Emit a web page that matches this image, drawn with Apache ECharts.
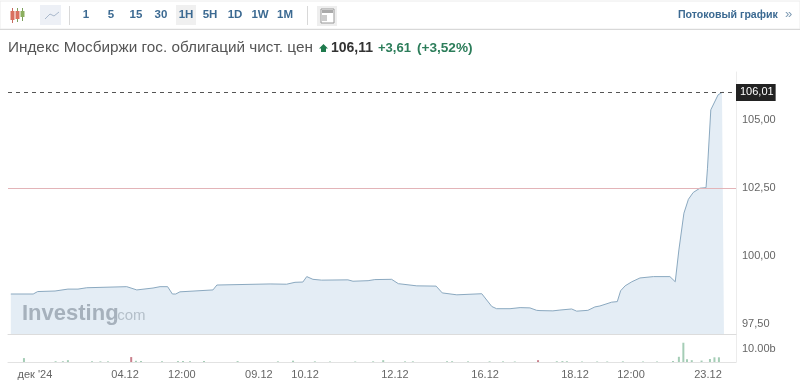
<!DOCTYPE html>
<html>
<head>
<meta charset="utf-8">
<style>
  html, body { margin: 0; padding: 0; background: #fff; }
  #chart { width: 800px; height: 384px; }
</style>
<script src="https://cdn.jsdelivr.net/npm/echarts@6/dist/echarts.min.js"></script>
</head>
<body>
<div id="chart"></div>
<script>
// x values are trading hours counted from the left edge of the chart
const priceHours = [1, 9, 10.6, 16.8, 21.4, 25, 28.1, 42.4, 46, 51.8, 54.3, 57, 58.7, 59.9, 61.4, 73.2, 74.6, 93.6, 99.5, 102.5, 105.3, 106.7, 108.9, 112, 121.4, 123.2, 128.6, 131, 137, 139.4, 146, 152.9, 155.1, 160.3, 169.2, 172.8, 174.5, 179.3, 182.9, 186.4, 188.8, 190, 194.6, 197.1, 201.3, 203.1, 207.1, 209.6, 211.4, 215.6, 217.6, 218.8, 220.4, 222.8, 225.7, 230.5, 236.4, 238.3, 239.6, 241.4, 243, 244.7, 247.1, 249.3, 249.8, 251, 253.6, 255, 255.7]
const priceValues = [98.60, 98.60, 98.69, 98.71, 98.78, 98.78, 98.83, 98.87, 98.75, 98.82, 98.87, 98.87, 98.60, 98.60, 98.68, 98.75, 98.93, 98.97, 98.96, 99.03, 99.04, 99.24, 99.14, 99.11, 99.12, 99.07, 99.09, 99.13, 99.14, 98.98, 98.90, 98.89, 98.64, 98.57, 98.61, 98.14, 98.06, 98.06, 98.10, 98.09, 98.00, 97.99, 97.98, 98.01, 98.05, 97.97, 98.00, 98.125, 98.16, 98.30, 98.32, 98.72, 98.90, 99.05, 99.19, 99.24, 99.24, 99.05, 100.22, 101.57, 102.08, 102.33, 102.49, 102.51, 103.20, 105.37, 105.92, 106.01, 106.01]

const volumeHours = [5.7, 17, 19.6, 21.4, 30, 33, 35.7, 44, 45.7, 47.5, 55, 60.7, 62.5, 65, 70, 82, 96.4, 101.8, 109.6, 115, 124, 130.4, 134, 141.8, 144.6, 156.8, 158.6, 164.3, 172, 176.8, 181, 189.3, 196, 198, 199.6, 205, 210.4, 214, 219.6, 226.8, 231.8, 237.5, 239.6, 241.2, 242.5, 244.2, 247.7, 250.7, 252.3, 253.9]
const volumeValues = [3, 0.6, 0.6, 1.4, 0.5, 0.5, 0.5, 3.8, 0.9, 0.7, 0.6, 0.7, 0.8, 0.6, 0.7, 0.7, 0.5, 1, 0.5, 0.4, 0.4, 0.5, 1.4, 0.5, 0.5, 0.6, 0.6, 0.5, 0.5, 0.5, 0.4, 1.4, 0.6, 0.7, 0.6, 0.4, 0.4, 0.4, 0.5, 0.4, 0.4, 0.8, 4, 14.8, 2.2, 1.4, 1.1, 2.3, 3.6, 3.6]
const volumeDown = [44, 189.3]

const tickHours = [9.6, 41.8, 62.1, 89.6, 106.1, 138.2, 170.4, 202.5, 222.5, 250]
const tickLabels = ["дек '24", '04.12', '12:00', '09.12', '10.12', '12.12', '16.12', '18.12', '12:00', '23.12']
const priceTicks = [97.5, 100, 102.5, 105]
const volumeTicks = [10]
const previousClose = 102.5
const lastPrice = 106.01

const intervals = ['1', '5', '15', '30', '1H', '5H', '1D', '1W', '1M']
const intervalCenters = [86, 111, 136, 161, 186, 210, 235, 260, 285]

const font = '"Liberation Sans", Arial, sans-serif'
const comma = v => v.toFixed(2).replace('.', ',')

const graphic = [
  { type: 'rect', shape: { x: 0, y: 1, width: 800, height: 28 }, style: { fill: '#fff', stroke: '#ececec' }, silent: true },
  { type: 'line', shape: { x1: 0, y1: 29.5, x2: 800, y2: 29.5 }, style: { stroke: '#d8d8d8' } },
  // свечи
  { type: 'line', shape: { x1: 12.5, y1: 8, x2: 12.5, y2: 23 }, style: { stroke: '#c76a5e' } },
  { type: 'rect', shape: { x: 10.5, y: 11, width: 4, height: 9 }, style: { fill: '#d9705f' } },
  { type: 'line', shape: { x1: 17.5, y1: 8, x2: 17.5, y2: 22 }, style: { stroke: '#7da05c' } },
  { type: 'rect', shape: { x: 15.5, y: 11, width: 4, height: 8 }, style: { fill: '#d9705f' } },
  { type: 'line', shape: { x1: 22.5, y1: 8, x2: 22.5, y2: 21 }, style: { stroke: '#7da05c' } },
  { type: 'rect', shape: { x: 20.5, y: 11, width: 4, height: 6 }, style: { fill: '#8caf5f' } },
  // линия
  { type: 'rect', shape: { x: 40, y: 5, width: 21, height: 20 }, style: { fill: '#edf0f6' } },
  { type: 'polyline', shape: { points: [[45, 19], [50, 14], [54, 16], [59, 12]] }, style: { stroke: '#a9b8cc', fill: 'none' } },
  { type: 'line', shape: { x1: 69.5, y1: 6, x2: 69.5, y2: 25 }, style: { stroke: '#d8d8d8' } },
  { type: 'rect', shape: { x: 176, y: 5, width: 20, height: 20 }, style: { fill: '#f0f0f0' } },
  { type: 'line', shape: { x1: 307.5, y1: 6, x2: 307.5, y2: 25 }, style: { stroke: '#d8d8d8' } },
  // новости
  { type: 'rect', shape: { x: 317, y: 6, width: 20, height: 20 }, style: { fill: '#eee' } },
  { type: 'rect', shape: { x: 321, y: 9, width: 13, height: 14 }, style: { fill: '#fff', stroke: '#999' } },
  { type: 'rect', shape: { x: 322, y: 10, width: 11, height: 3 }, style: { fill: '#aaa' } },
  { type: 'rect', shape: { x: 322, y: 15, width: 5, height: 6 }, style: { fill: '#ccc' } },
  { type: 'text', x: 678, y: 15, style: { text: 'Потоковый график', font: 'bold 10.6px ' + font, fill: '#3c6a92', textVerticalAlign: 'middle' } },
  { type: 'text', x: 785, y: 14, style: { text: '»', font: '13px ' + font, fill: '#7d9ab3', textVerticalAlign: 'middle' } },
  { type: 'text', x: 8, y: 48, style: { text: 'Индекс Мосбиржи гос. облигаций чист. цен', font: '15.3px ' + font, fill: '#555', textVerticalAlign: 'middle' } },
  { type: 'polygon', shape: { points: [[323.5, 44], [328, 48.5], [326, 48.5], [326, 52], [321, 52], [321, 48.5], [319, 48.5]] }, style: { fill: '#1f7a4d' } },
  { type: 'text', x: 331, y: 48, style: { text: '106,11', font: 'bold 14px ' + font, fill: '#333', textVerticalAlign: 'middle' } },
  { type: 'text', x: 378, y: 48, style: { text: '+3,61', font: 'bold 13px ' + font, fill: '#2c7d5a', textVerticalAlign: 'middle' } },
  { type: 'text', x: 417, y: 48, style: { text: '(+3,52%)', font: 'bold 13.6px ' + font, fill: '#2c7d5a', textVerticalAlign: 'middle' } },
  { type: 'text', x: 22, y: 314, z: 10, style: { text: 'Investing', font: 'bold 22px ' + font, fill: '#a6b1bc', textVerticalAlign: 'middle' } },
  { type: 'text', x: 113, y: 316, z: 10, style: { text: '.com', font: '15px ' + font, fill: '#b4bfc9', textVerticalAlign: 'middle' } }
]
intervals.forEach((name, i) => {
  graphic.push({
    type: 'text', x: intervalCenters[i], y: 15,
    style: { text: name, font: 'bold 11.5px ' + font, fill: '#3c6a92', textAlign: 'center', textVerticalAlign: 'middle' }
  })
})

const axisText = { color: '#666', fontSize: 11, fontFamily: font }

const option = {
  animation: false,
  backgroundColor: '#fff',
  graphic: graphic,
  grid: [
    { left: 8, right: 64, top: 72, height: 262 },
    { left: 8, right: 64, top: 334, height: 28 }
  ],
  xAxis: [
    {
      type: 'value', gridIndex: 0, min: 0, max: 260,
      axisLine: { show: true, onZero: false, lineStyle: { color: '#dcdcdc' } },
      axisTick: { show: false }, axisLabel: { show: false }, splitLine: { show: false }
    },
    {
      type: 'value', gridIndex: 1, min: 0, max: 260,
      axisLine: { show: true, onZero: false, lineStyle: { color: '#e2e2e2' } },
      axisTick: { show: false },
      splitLine: { show: false },
      axisLabel: {
        ...axisText,
        margin: 7,
        customValues: tickHours,
        formatter: v => tickLabels[tickHours.indexOf(v)]
      }
    }
  ],
  yAxis: [
    {
      type: 'value', gridIndex: 0, position: 'right', min: 97.13, max: 106.76, scale: true,
      axisLine: { show: true, onZero: false, lineStyle: { color: '#ececec' } },
      axisTick: { show: false },
      splitLine: { show: false },
      axisLabel: { ...axisText, margin: 6, customValues: priceTicks, formatter: comma }
    },
    {
      type: 'value', gridIndex: 1, position: 'right', min: 0, max: 21.5,
      axisLine: { show: true, onZero: false, lineStyle: { color: '#ececec' } },
      axisTick: { show: false },
      splitLine: { show: false },
      axisLabel: { ...axisText, margin: 6, customValues: volumeTicks, formatter: v => v.toFixed(2) + 'b' }
    }
  ],
  series: [
    {
      type: 'line',
      xAxisIndex: 0,
      yAxisIndex: 0,
      symbol: 'none',
      lineStyle: { color: '#8ba9c0', width: 1 },
      areaStyle: { color: '#e4edf5', opacity: 1 },
      data: priceHours.map((h, i) => [h, priceValues[i]]),
      markLine: {
        silent: true,
        symbol: 'none',
        animation: false,
        data: [
          {
            yAxis: previousClose,
            lineStyle: { color: '#e3b4b8', type: 'solid', width: 1 },
            label: { show: false }
          },
          {
            yAxis: lastPrice,
            lineStyle: { color: '#555', type: [4, 4], width: 1 },
            label: {
              position: 'end', distance: 0, formatter: comma(lastPrice),
              color: '#fff', backgroundColor: '#222', fontSize: 11, fontFamily: font,
              padding: [3, 2, 3, 4]
            }
          }
        ]
      }
    },
    {
      type: 'bar',
      xAxisIndex: 1,
      yAxisIndex: 1,
      barWidth: 2,
      data: volumeHours.map((h, i) => ({
        value: [h, volumeValues[i]],
        itemStyle: { color: volumeDown.includes(h) ? '#c9808c' : '#a5cdb6' }
      }))
    }
  ]
}

echarts.init(document.getElementById('chart')).setOption(option)
</script>
</body>
</html>
